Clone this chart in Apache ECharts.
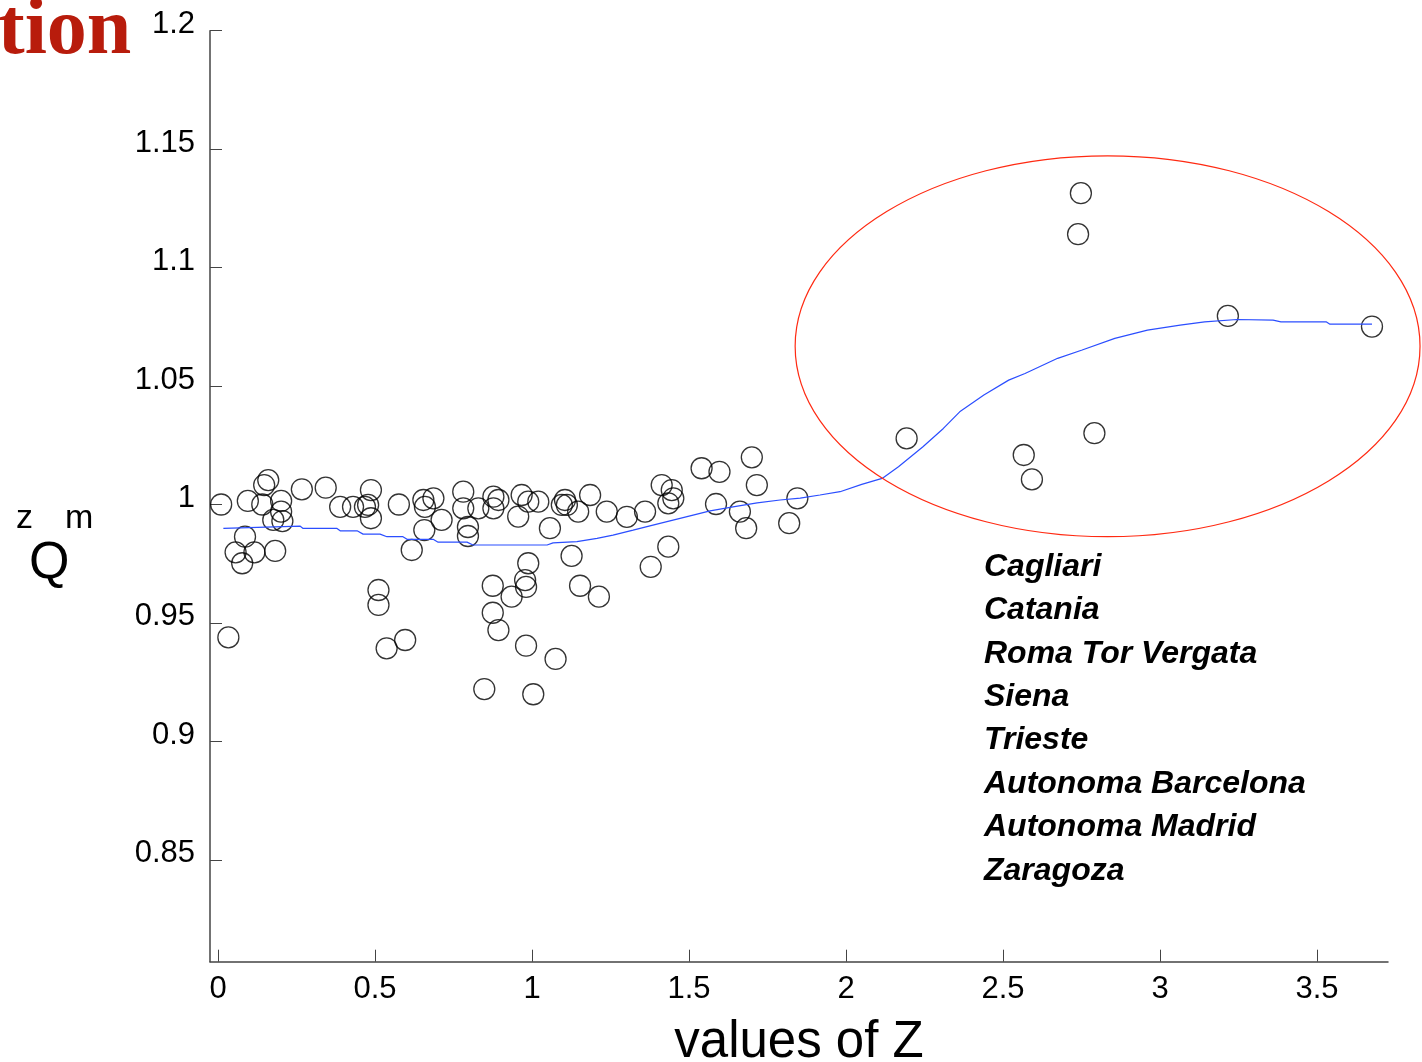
<!DOCTYPE html>
<html>
<head>
<meta charset="utf-8">
<title>values of Z</title>
<script src="https://cdn.jsdelivr.net/npm/echarts@6/dist/echarts.min.js"></script>
<style>
  html, body { margin: 0; padding: 0; background: #fff; }
  #main { width: 1422px; height: 1062px; }
</style>
</head>
<body>
<div id="main"></div>
<script>
// scatter points (Z, Q)
const zValues = [
  0.010, 0.095, 0.160, 0.147, 0.141, 0.201, 0.201, 0.176, 0.205, 0.267,
  0.343, 0.389, 0.430, 0.468, 0.487, 0.478, 0.487, 0.086, 0.056, 0.116,
  0.077, 0.182, 0.033, 0.511, 0.511, 0.537, 0.596, 0.617, 0.576, 0.654,
  0.686, 0.659, 0.712, 0.657, 0.781, 0.781, 0.796, 0.796, 0.829, 0.877,
  0.893, 0.877, 0.956, 0.967, 0.988, 0.988, 1.020, 1.105, 1.095, 1.111,
  1.147, 1.185, 1.238, 1.302, 1.360, 1.413, 1.445, 1.450, 1.434, 1.057,
  1.126, 1.434, 0.875, 0.935, 0.978, 0.981, 1.153, 1.213, 0.875, 0.893,
  0.981, 1.075, 0.848, 1.004, 1.378, 1.540, 1.597, 1.700, 1.716, 1.586,
  1.662, 1.682, 1.845, 1.819,
  2.748, 2.739, 3.216, 3.675, 2.193, 2.566, 2.592, 2.791
]
const qValues = [
  1.000, 1.0015, 1.0103, 1.0082, 1.000, 1.0015, 0.997, 0.9935, 0.993, 1.0064,
  1.0071, 0.999, 0.999, 0.999, 1.0061, 0.9998, 0.9942, 0.9864, 0.9798, 0.9798,
  0.9752, 0.9804, 0.9439, 0.9639, 0.9576, 0.9393, 0.9428, 0.9808, 1.000, 1.0019,
  1.0026, 0.999, 0.9935, 0.9892, 1.0054, 0.9984, 0.9905, 0.9867, 0.9984, 1.0033,
  1.0019, 0.9984, 0.9949, 1.004, 0.9752, 1.0012, 1.0012, 1.0019, 0.9998, 0.9998,
  0.997, 1.004, 0.997, 0.9948, 0.997, 1.0082, 1.0061, 1.0026, 1.0005, 0.990,
  0.9783, 0.9822, 0.9657, 0.9611, 0.9681, 0.9652, 0.9657, 0.9611, 0.9543, 0.947,
  0.9404, 0.9348, 0.9221, 0.9199, 0.9737, 1.0153, 1.0138, 1.0199, 1.0082, 1.0002,
  0.997, 0.990, 1.0026, 0.9921,
  1.1314, 1.1141, 1.0796, 1.0751, 1.0279, 1.0209, 1.0106, 1.0301
]

// blue trend curve
const curveZ = [
  0.017, 0.261, 0.271, 0.379, 0.389, 0.443, 0.462, 0.516, 0.538, 0.589,
  0.602, 0.685, 0.701, 0.793, 0.812, 1.048, 1.067, 1.143, 1.207, 1.258,
  1.322, 1.385, 1.449, 1.513, 1.567, 1.640, 1.717, 1.790, 1.854, 1.917,
  1.981, 2.050, 2.115, 2.167, 2.245, 2.310, 2.362, 2.439, 2.518, 2.570,
  2.674, 2.752, 2.856, 2.960, 3.064, 3.142, 3.245, 3.360, 3.385, 3.529,
  3.541, 3.675
]
const curveQ = [
  0.9899, 0.9909, 0.9899, 0.9899, 0.9889, 0.9889, 0.9875, 0.9875, 0.9864, 0.9864,
  0.9853, 0.9853, 0.9841, 0.9841, 0.9829, 0.9829, 0.9838, 0.9843, 0.9857, 0.9871,
  0.9892, 0.9913, 0.9934, 0.9955, 0.9973, 0.9990, 1.0007, 1.0019, 1.0027, 1.0040,
  1.0054, 1.0085, 1.0110, 1.0159, 1.0244, 1.0321, 1.0391, 1.0462, 1.0525, 1.0553,
  1.0617, 1.0652, 1.0701, 1.0736, 1.0757, 1.0771, 1.0781, 1.0778, 1.0771, 1.0771,
  1.0761, 1.0761
]

const xTicks = [0, 0.5, 1, 1.5, 2, 2.5, 3, 3.5]
const yTicks = [0.85, 0.9, 0.95, 1, 1.05, 1.1, 1.15, 1.2]

const universities = [
  'Cagliari', 'Catania', 'Roma Tor Vergata', 'Siena', 'Trieste',
  'Autonoma Barcelona', 'Autonoma Madrid', 'Zaragoza'
]

// highlighted region (data units): center z, center q, radius z, radius q
const ringCenter = [2.833, 1.0668]
const ringRadius = [0.995, 0.0804]

const scatterData = zValues.map((z, i) => [z, qValues[i]])
const curveData = curveZ.map((z, i) => [z, curveQ[i]])

const fontSans = '"Liberation Sans", Arial, sans-serif'

let myChart = echarts.init(document.getElementById('main'))
let option = {
  animation: false,
  backgroundColor: '#fff',
  grid: {
    left: 210,
    top: 30.7,
    right: 34,
    bottom: 100.3,
    containLabel: false,
    outerBoundsMode: 'none'
  },
  xAxis: {
    type: 'value',
    min: -0.0255,
    max: 3.726,
    name: 'values of Z',
    nameLocation: 'middle',
    nameGap: 56,
    nameTextStyle: { fontFamily: fontSans, fontSize: 51, color: '#000' },
    axisLine: { onZero: false, lineStyle: { color: '#444', width: 1.5 } },
    axisTick: { inside: true, length: 12, customValues: xTicks, lineStyle: { color: '#444' } },
    axisLabel: {
      customValues: xTicks,
      fontFamily: fontSans,
      fontSize: 31,
      color: '#000',
      margin: 12
    },
    splitLine: { show: false }
  },
  yAxis: {
    type: 'value',
    min: 0.807,
    max: 1.2,
    axisLine: { show: true, onZero: false, lineStyle: { color: '#444', width: 1.5 } },
    axisTick: { show: true, inside: true, length: 12, customValues: yTicks, lineStyle: { color: '#444' } },
    axisLabel: {
      customValues: yTicks,
      fontFamily: fontSans,
      fontSize: 31,
      color: '#000',
      margin: 15,
      verticalAlign: 'bottom',
      lineHeight: 12
    },
    splitLine: { show: false }
  },
  series: [
    {
      type: 'line',
      data: curveData,
      showSymbol: false,
      silent: true,
      lineStyle: { color: '#2b4eff', width: 1.2 },
      z: 3
    },
    {
      type: 'scatter',
      data: scatterData,
      symbol: 'circle',
      symbolSize: 21,
      silent: true,
      itemStyle: { color: 'rgba(0,0,0,0)', borderColor: '#000', borderWidth: 1.3 },
      z: 2
    }
  ]
}
myChart.setOption(option)

// 椭圆和文字
const c = myChart.convertToPixel({ gridIndex: 0 }, ringCenter)
const edge = myChart.convertToPixel({ gridIndex: 0 }, [ringCenter[0] + ringRadius[0], ringCenter[1] + ringRadius[1]])

let graphics = [
  {
    type: 'ellipse',
    silent: true,
    shape: { cx: c[0], cy: c[1], rx: edge[0] - c[0], ry: c[1] - edge[1] },
    style: { fill: 'none', stroke: '#ff2a12', lineWidth: 1.2 },
    z: 5
  },
  {
    type: 'text', left: -2, top: -8,
    style: { text: 'tion', font: 'bold 80px "Liberation Serif", "Times New Roman", serif', fill: '#b81c0c' }
  },
  {
    type: 'text', left: 16, top: 502,
    style: { text: 'z', font: '34px ' + fontSans, fill: '#000' }
  },
  {
    type: 'text', left: 65, top: 502,
    style: { text: 'm', font: '34px ' + fontSans, fill: '#000' }
  },
  {
    type: 'text', left: 29, top: 538,
    style: { text: 'Q', font: '52px ' + fontSans, fill: '#000' }
  }
]

universities.forEach((name, i) => {
  graphics.push({
    type: 'text',
    left: 984,
    top: 551 + i * 43.4,
    style: { text: name, font: 'italic bold 32px ' + fontSans, fill: '#000' }
  })
})

myChart.setOption({ graphic: graphics })
</script>
</body>
</html>
